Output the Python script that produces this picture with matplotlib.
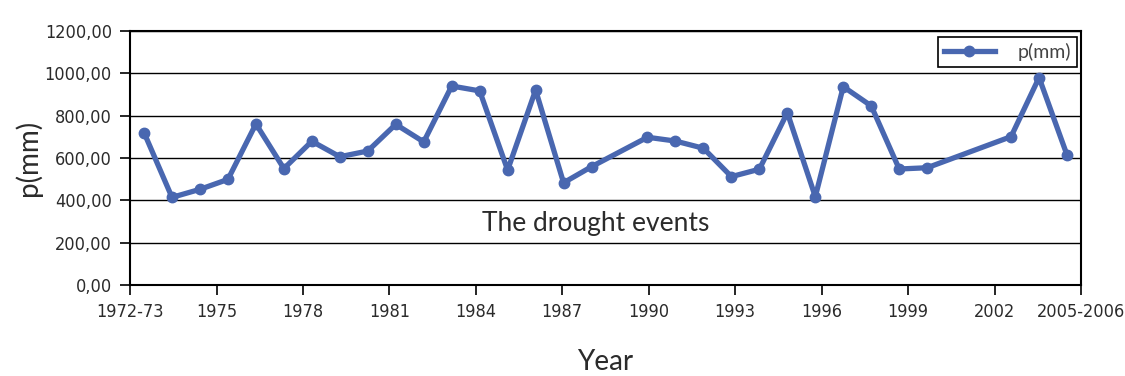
import numpy as np
import matplotlib
matplotlib.use("Agg")
import matplotlib.pyplot as plt

# annual precipitation, 1972-73 .. 2005-2006 (1989, 2001, 2002 missing)
years = [1972, 1973, 1974, 1975, 1976, 1977, 1978, 1979, 1980, 1981,
         1982, 1983, 1984, 1985, 1986, 1987, 1988, 1990, 1991, 1992,
         1993, 1994, 1995, 1996, 1997, 1998, 1999, 2000, 2003, 2004, 2005]
precip = [720, 414, 452, 499, 761, 550, 679, 606, 633, 759,
          676, 940, 917, 543, 921, 483, 559, 698, 680, 646,
          512, 547, 814, 417, 937, 846, 548, 554, 701, 980, 614]

tick_labels = ["1972-73", "1975", "1978", "1981", "1984", "1987",
               "1990", "1993", "1996", "1999", "2002", "2005-2006"]
first_year, last_year = 1972, 2005

LINE = "#4967B0"
TXT = "#2b2b2b"
SANS = ["Lato", "DejaVu Sans"]

fig = plt.figure(figsize=(11.25, 3.76), dpi=100)
ax = fig.add_axes([0.1156, 0.242, 0.8453, 0.6756])

x = np.array(years) - first_year
ax.plot(x, precip, color=LINE, lw=3.8, marker="o", ms=7.5,
        solid_joinstyle="round", label="p(mm)", zorder=3)

n = last_year - first_year + 1
ax.set_xlim(-0.5, n - 0.5)
ax.set_ylim(0, 1200)

ax.set_xticks(np.linspace(-0.5, n - 0.5, len(tick_labels)))
ax.set_xticklabels(tick_labels, family="DejaVu Sans", stretch="condensed",
                   fontsize=13, color=TXT)
yt = np.arange(0, 1201, 200)
ax.set_yticks(yt)
ax.set_yticklabels([f"{v:.2f}".replace(".", ",") for v in yt],
                   family="DejaVu Sans", stretch="condensed",
                   fontsize=13, color=TXT)
ax.tick_params(axis="both", direction="out", length=7, width=1.2,
               color="black", pad=6)

ax.grid(axis="y", color="black", lw=1)
ax.set_axisbelow(True)
for s in ax.spines.values():
    s.set_linewidth(1.5)
    s.set_color("black")

ax.set_xlabel("Year", family=SANS, fontsize=20, color=TXT)
ax.set_ylabel("p(mm)", family=SANS, fontsize=20, color=TXT)
ax.xaxis.set_label_coords(0.5, -0.25)
ax.yaxis.set_label_coords(-0.0925, 0.5)

ax.text(16.15, 290, "The drought events", family=SANS,
        fontsize=19, color=TXT, ha="center", va="center")

leg = ax.legend(loc="upper right", bbox_to_anchor=(0.996, 0.976),
                borderaxespad=0,
                prop={"family": SANS, "size": 14},
                handlelength=2.6, handletextpad=1.2, borderpad=0.3,
                frameon=True, fancybox=False, framealpha=1)
leg.get_frame().set_edgecolor("black")
leg.get_frame().set_linewidth(1.2)
for t in leg.get_texts():
    t.set_color("#444444")

fig.savefig("out.png", dpi=100)
